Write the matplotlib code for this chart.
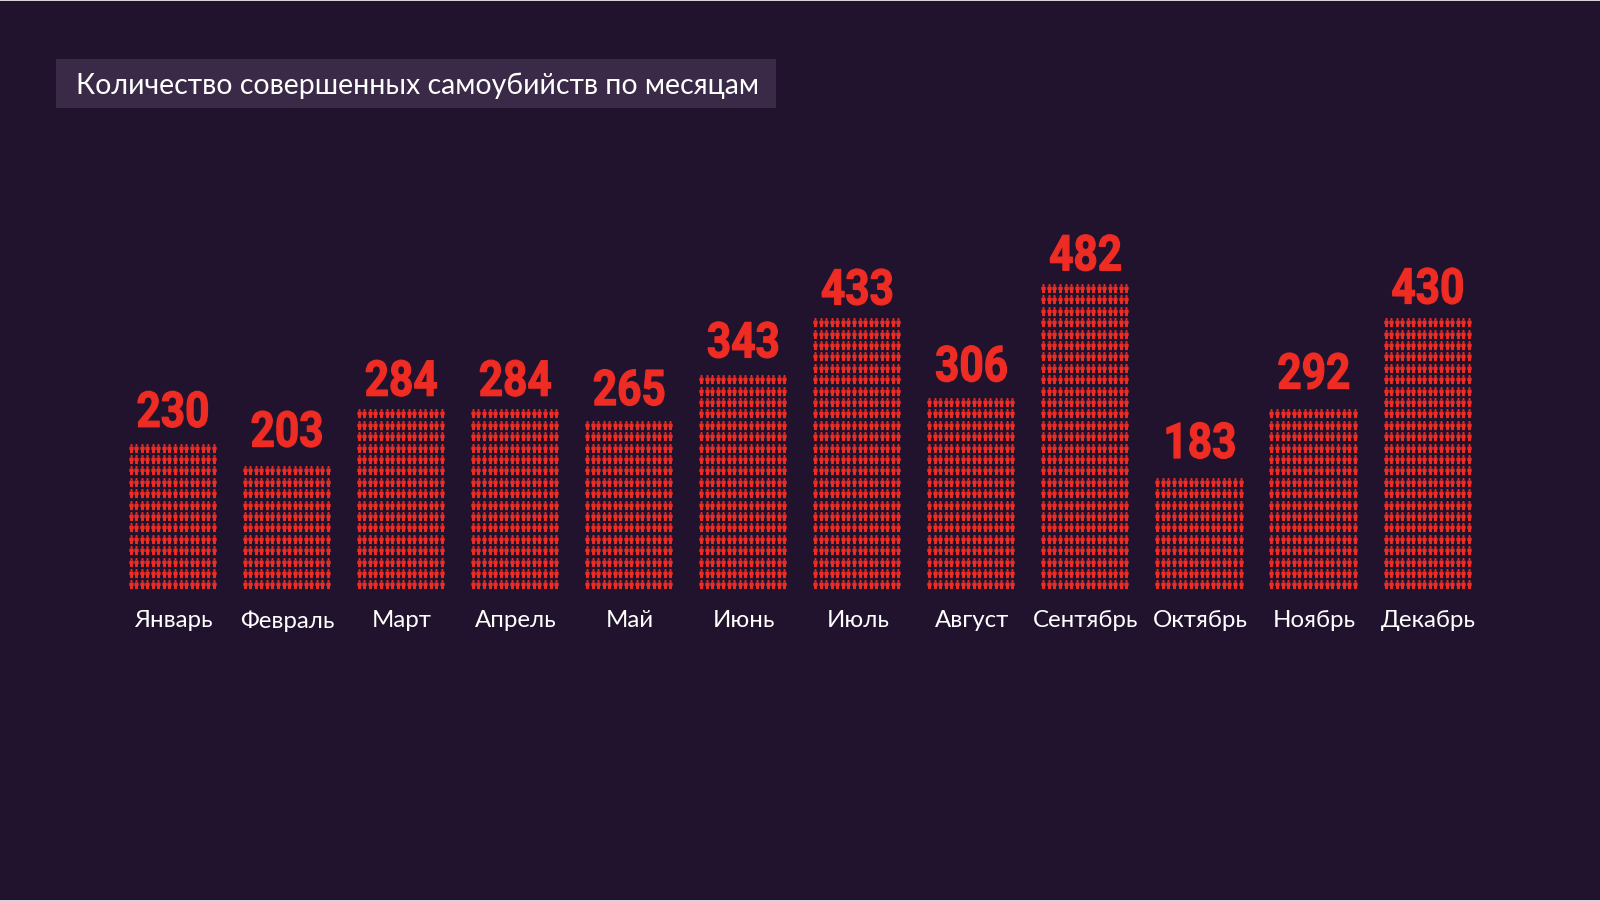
import matplotlib
matplotlib.use('Agg')
import matplotlib.pyplot as plt
import matplotlib.patheffects as pe
import numpy as np
from matplotlib.patches import Rectangle
from matplotlib.path import Path
from matplotlib.transforms import Affine2D, ScaledTranslation

months = ['Январь', 'Февраль', 'Март', 'Апрель', 'Май', 'Июнь', 'Июль', 'Август',
          'Сентябрь', 'Октябрь', 'Ноябрь', 'Декабрь']
values = [230, 203, 284, 284, 265, 343, 433, 306, 482, 183, 292, 430]
rows = [13, 11, 16, 16, 15, 19, 24, 17, 27, 10, 16, 24]
columns = 16
# the numbers sit a little unevenly above the stacks in the original, pixels
label_gap = [-1, 2, -4, -4, -2, 0, -4, -1, -4, 2, 3, -3]
title = 'Количество совершенных самоубийств по месяцам'

BG = '#21132d'
BOX = '#3a2a47'
RED = '#ee2c24'
EDGE = '#d8d5da'
W, H = 1600, 901

plt.rcParams['font.family'] = ['Lato', 'Noto Sans', 'DejaVu Sans']


class Squeeze(pe.AbstractPathEffect):
    # no condensed bold font here, so narrow the glyphs around their centre
    def __init__(self, k, stroke=0):
        super().__init__()
        self.k = k
        self.stroke = stroke

    def draw_path(self, renderer, gc, tpath, affine, rgbFace=None):
        box = tpath.transformed(affine).get_extents()
        cx = (box.x0 + box.x1) / 2
        squeezed = affine + Affine2D().translate(-cx, 0).scale(self.k, 1).translate(cx, 0)
        gc0 = renderer.new_gc()
        gc0.copy_properties(gc)
        gc0.set_foreground(rgbFace)
        gc0.set_linewidth(self.stroke)
        renderer.draw_path(gc0, tpath, squeezed, rgbFace)
        gc0.restore()


def person_marker():
    # little figure: head on top of a stout body
    head = Path.circle((0, 0.74), 0.24)
    body = Path([(-0.2, 0.5), (0.2, 0.5), (0.47, 0.3), (0.47, -0.3), (0.33, -0.35), (0.3, -1), (-0.3, -1),
                 (-0.33, -0.35), (-0.47, -0.3), (-0.47, 0.3), (-0.2, 0.5)], closed=True)
    return Path.make_compound_path(head, body)


fig = plt.figure(figsize=(W / 100, H / 100), dpi=100, facecolor=BG)

# x unit = one month, y unit = one row of figures
left, right = 115.2, 1484.2
bottom, top = 590, 134
ax = fig.add_axes([left / W, 1 - bottom / H, (right - left) / W, (bottom - top) / H])
ax.set_facecolor('none')
ax.set_xlim(-0.5, 11.5)
ax.set_ylim(0, 40)

marker = person_marker()
col_pos = (np.arange(columns) - (columns - 1) / 2) * 0.0486
for i, (n, val) in enumerate(zip(rows, values)):
    xs, ys = np.meshgrid(i + col_pos, np.arange(n) + 0.5)
    ax.scatter(xs.ravel(), ys.ravel(), marker=marker, s=44, color=RED, linewidths=0)
    ax.annotate(str(val), (i, n), xytext=(0.5, 11.5 + label_gap[i] * 0.735), textcoords='offset points',
                ha='center', va='baseline', color=RED, fontsize=35.5, fontweight='bold',
                family=['Roboto', 'DejaVu Sans'], path_effects=[Squeeze(0.86, 0.9)])

ax.set_xticks(range(len(months)))
ax.set_xticklabels(months, fontsize=17.3, color='white')
ax.tick_params(axis='x', length=0, pad=14.5)
shift = ScaledTranslation(1.2 / 100, 0, fig.dpi_scale_trans)
for lab in ax.get_xticklabels():
    lab.set_transform(lab.get_transform() + shift)
ax.set_yticks([])
for s in ax.spines.values():
    s.set_visible(False)

# title box
fig.add_artist(Rectangle((55.5 / W, 1 - 107.5 / H), 720 / W, 48.5 / H, transform=fig.transFigure,
                         facecolor=BOX, edgecolor='none'))
fig.text(75.5 / W, 1 - 86 / H, title, color='white', fontsize=20.5, va='center', ha='left')

# thin light rows at the very top and bottom of the picture
fig.add_artist(Rectangle((0, 1 - 1 / H), 1, 1 / H, transform=fig.transFigure, facecolor=EDGE, edgecolor='none'))
fig.add_artist(Rectangle((0, 0), 1, 1 / H, transform=fig.transFigure, facecolor=EDGE, edgecolor='none'))

fig.savefig('out.png', dpi=100, facecolor=BG)
